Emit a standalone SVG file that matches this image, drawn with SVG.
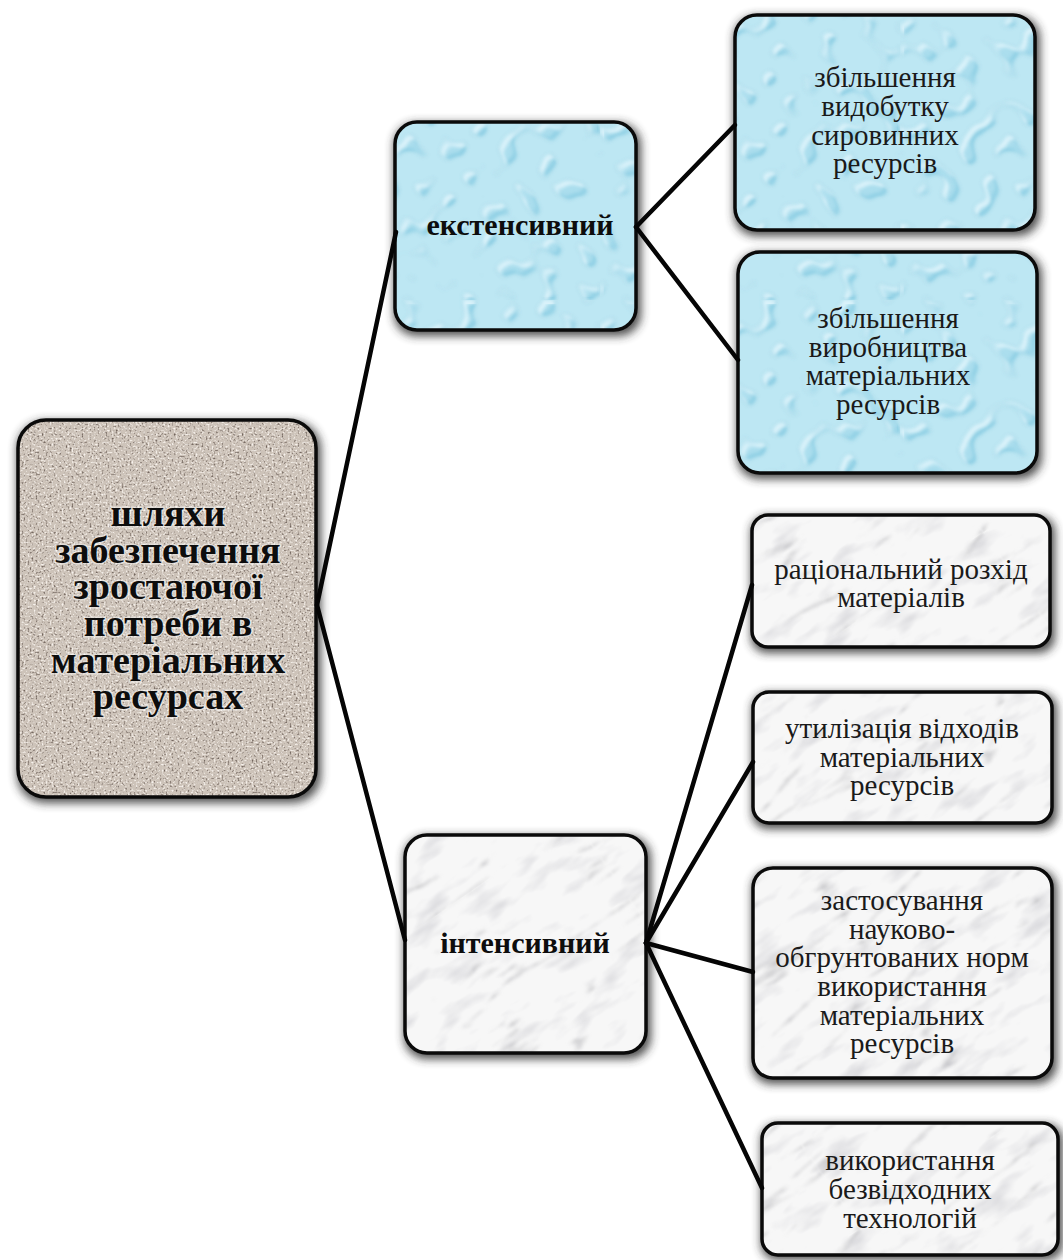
<svg xmlns="http://www.w3.org/2000/svg" width="1063" height="1260" viewBox="0 0 1063 1260">
<style>
.box{stroke:#0a0a0a;stroke-width:3.5}
.shadow{fill:#2e2e2e;opacity:0.85;filter:url(#fShadow)}
.conn{stroke:#050505;stroke-width:4.5;stroke-linecap:round;fill:none}
.t-root{font-family:"Liberation Serif",serif;font-weight:bold;font-size:38px;fill:#0d0d0d;text-anchor:middle;stroke:#fff;stroke-opacity:0.45;stroke-width:3;paint-order:stroke}
.t-mid{font-family:"Liberation Serif",serif;font-weight:bold;font-size:30px;fill:#0d0d0d;text-anchor:middle}
.t-leaf{font-family:"Liberation Serif",serif;font-size:29px;fill:#1a1a1a;text-anchor:middle}
</style>
<defs>
<filter id="fShadow" x="-20%" y="-20%" width="140%" height="140%"><feGaussianBlur stdDeviation="5"/></filter>
<filter id="fGranite" x="0" y="0" width="1" height="1" color-interpolation-filters="sRGB">
<feTurbulence type="fractalNoise" baseFrequency="0.5" numOctaves="2" seed="4" stitchTiles="stitch" result="n"/>
<feFlood flood-color="#cdc3b9" result="base"/>
<feColorMatrix in="n" type="matrix" values="0 0 0 0 0.45 0 0 0 0 0.40 0 0 0 0 0.37 4 0 0 0 -2.2" result="dark"/>
<feColorMatrix in="n" type="matrix" values="0 0 0 0 0.97 0 0 0 0 0.95 0 0 0 0 0.93 0 -4 0 0 1.9" result="light"/>
<feMerge><feMergeNode in="base"/><feMergeNode in="dark"/><feMergeNode in="light"/></feMerge>
</filter>
<filter id="fMarble" x="0" y="0" width="1" height="1" color-interpolation-filters="sRGB">
<feTurbulence type="turbulence" baseFrequency="0.006 0.03" numOctaves="5" seed="11" stitchTiles="stitch" result="t"/>
<feFlood flood-color="#f7f7f7" result="base"/>
<feColorMatrix in="t" type="matrix" values="0 0 0 0 0.6 0 0 0 0 0.6 0 0 0 0 0.62 -3.5 0 0 0 0.55" result="veins"/>
<feGaussianBlur in="veins" stdDeviation="1.5" result="veinsB"/>
<feTurbulence type="fractalNoise" baseFrequency="0.02 0.05" numOctaves="3" seed="21" stitchTiles="stitch" result="f"/>
<feColorMatrix in="f" type="matrix" values="0 0 0 0 0.8 0 0 0 0 0.8 0 0 0 0 0.82 1.8 0 0 0 -0.95" result="cloud"/>
<feMerge><feMergeNode in="base"/><feMergeNode in="cloud"/><feMergeNode in="veinsB"/></feMerge>
</filter>
<filter id="fWater" x="0" y="0" width="1" height="1" color-interpolation-filters="sRGB">
<feTurbulence type="fractalNoise" baseFrequency="0.05" numOctaves="1" seed="9" stitchTiles="stitch" result="n"/>
<feColorMatrix in="n" type="matrix" values="0 0 0 0 0 0 0 0 0 0 0 0 0 0 0 10 0 0 0 -5.6" result="blob0"/>
<feGaussianBlur in="blob0" stdDeviation="1.5" result="blob"/>
<feFlood flood-color="#bde7f3" result="base"/>
<feFlood flood-color="#abdeee"/><feComposite in2="blob" operator="in" result="fillB"/>
<feOffset in="blob" dx="4" dy="4" result="sh1"/>
<feComposite in="blob" in2="sh1" operator="out" result="tl"/>
<feFlood flood-color="#effbff" flood-opacity="0.7"/><feComposite in2="tl" operator="in" result="hl"/>
<feOffset in="blob" dx="-3" dy="-3" result="sh2"/>
<feComposite in="blob" in2="sh2" operator="out" result="br"/>
<feFlood flood-color="#72c0da" flood-opacity="0.5"/><feComposite in2="br" operator="in" result="dk"/>
<feMerge><feMergeNode in="base"/><feMergeNode in="fillB"/><feMergeNode in="dk"/><feMergeNode in="hl"/></feMerge>
</filter>
<pattern id="pGranite" patternUnits="userSpaceOnUse" width="200" height="200"><rect width="200" height="200" filter="url(#fGranite)"/></pattern>
<pattern id="pMarble" patternUnits="userSpaceOnUse" width="500" height="500" patternTransform="rotate(-35)"><rect width="500" height="500" filter="url(#fMarble)"/></pattern>
<pattern id="pWater" patternUnits="userSpaceOnUse" width="300" height="300"><rect width="300" height="300" filter="url(#fWater)"/></pattern>
</defs>
<rect width="1063" height="1260" fill="#ffffff"/>

<g id="node-root">
<rect class="shadow" x="17" y="421" width="304" height="382" rx="28"/>
<rect class="box" x="18" y="420" width="298" height="377" rx="28" fill="url(#pGranite)"/>
<text class="t-root"><tspan x="168" y="526">шляхи</tspan><tspan x="168" y="563">забезпечення</tspan><tspan x="168" y="599">зростаючої</tspan><tspan x="168" y="636">потреби в</tspan><tspan x="168" y="673">матеріальних</tspan><tspan x="168" y="709">ресурсах</tspan></text>
</g>

<g id="node-ext">
<rect class="shadow" x="394" y="123" width="247" height="213" rx="22"/>
<rect class="box" x="395" y="122" width="241" height="208" rx="22" fill="url(#pWater)"/>
<text class="t-mid" x="520" y="235">екстенсивний</text>
</g>

<g id="node-int">
<rect class="shadow" x="404" y="836" width="247" height="223" rx="22"/>
<rect class="box" x="405" y="835" width="241" height="218" rx="22" fill="url(#pMarble)"/>
<text class="t-mid" x="525" y="953">інтенсивний</text>
</g>

<g id="node-l1">
<rect class="shadow" x="734" y="16" width="306" height="220" rx="22"/>
<rect class="box" x="735" y="15" width="300" height="215" rx="22" fill="url(#pWater)"/>
<text class="t-leaf"><tspan x="885" y="87">збільшення</tspan><tspan x="885" y="116">видобутку</tspan><tspan x="885" y="144.5">сировинних</tspan><tspan x="885" y="173">ресурсів</tspan></text>
</g>

<g id="node-l2">
<rect class="shadow" x="737" y="253" width="305" height="226" rx="22"/>
<rect class="box" x="738" y="252" width="299" height="221" rx="22" fill="url(#pWater)"/>
<text class="t-leaf"><tspan x="888" y="328">збільшення</tspan><tspan x="888" y="357">виробництва</tspan><tspan x="888" y="385">матеріальних</tspan><tspan x="888" y="414">ресурсів</tspan></text>
</g>

<g id="node-l3">
<rect class="shadow" x="751" y="516" width="304" height="137" rx="16"/>
<rect class="box" x="752" y="515" width="298" height="132" rx="16" fill="url(#pMarble)"/>
<text class="t-leaf"><tspan x="901" y="579">раціональний розхід</tspan><tspan x="901" y="607">матеріалів</tspan></text>
</g>

<g id="node-l4">
<rect class="shadow" x="752" y="693" width="305" height="136" rx="16"/>
<rect class="box" x="753" y="692" width="299" height="131" rx="16" fill="url(#pMarble)"/>
<text class="t-leaf"><tspan x="902" y="738">утилізація відходів</tspan><tspan x="902" y="766.5">матеріальних</tspan><tspan x="902" y="795">ресурсів</tspan></text>
</g>

<g id="node-l5">
<rect class="shadow" x="752" y="869" width="305" height="215" rx="20"/>
<rect class="box" x="753" y="868" width="299" height="210" rx="20" fill="url(#pMarble)"/>
<text class="t-leaf"><tspan x="902" y="910">застосування</tspan><tspan x="902" y="939">науково-</tspan><tspan x="902" y="967">обгрунтованих норм</tspan><tspan x="902" y="996">використання</tspan><tspan x="902" y="1025">матеріальних</tspan><tspan x="902" y="1053">ресурсів</tspan></text>
</g>

<g id="node-l6">
<rect class="shadow" x="761" y="1124" width="302" height="136" rx="16"/>
<rect class="box" x="762" y="1123" width="296" height="132" rx="16" fill="url(#pMarble)"/>
<text class="t-leaf"><tspan x="910" y="1170">використання</tspan><tspan x="910" y="1199">безвідходних</tspan><tspan x="910" y="1228">технологій</tspan></text>
</g>

<g id="connectors">
<line class="conn" x1="317" y1="605" x2="396" y2="232"/>
<line class="conn" x1="317" y1="605" x2="405" y2="940"/>
<line class="conn" x1="636" y1="227" x2="735" y2="125"/>
<line class="conn" x1="636" y1="227" x2="738" y2="360"/>
<line class="conn" x1="646" y1="943" x2="752" y2="585"/>
<line class="conn" x1="646" y1="943" x2="753" y2="762"/>
<line class="conn" x1="646" y1="943" x2="753" y2="972"/>
<line class="conn" x1="646" y1="943" x2="762" y2="1188"/>
</g>
</svg>
